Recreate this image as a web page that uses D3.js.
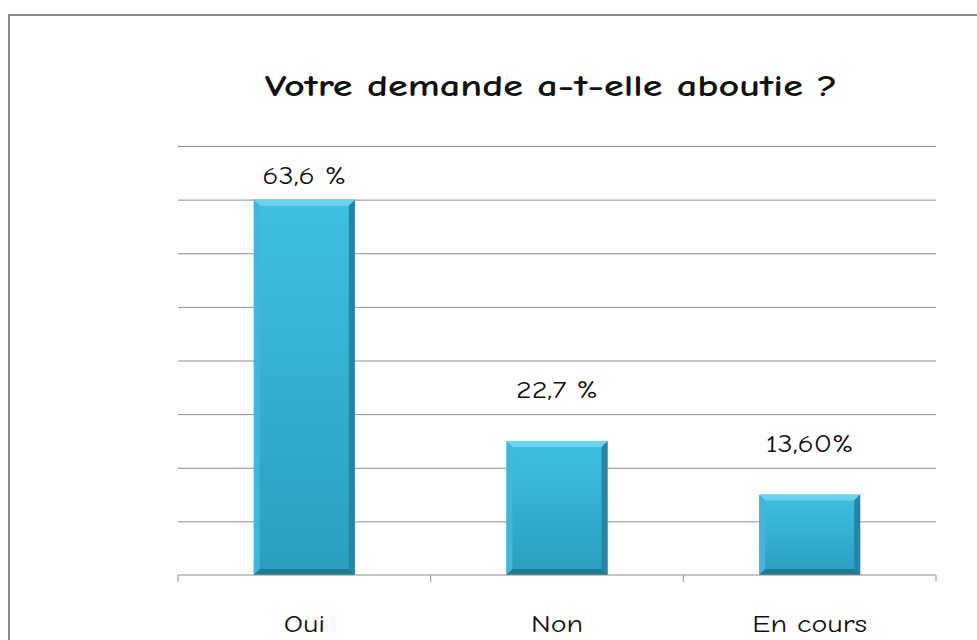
<!DOCTYPE html>
<html>
<head>
<meta charset="utf-8">
<script src="https://cdn.jsdelivr.net/npm/d3@7"></script>
<style>
  body { margin: 0; background: #fff; }
  text { font-family: "Comic Sans MS", "Comic Neue", "DejaVu Sans", sans-serif; fill: #111; }
</style>
</head>
<body>
<svg id="chart"></svg>
<script>
//DATA
const categories = ["Oui", "Non", "En cours"];
const counts = [14, 5, 3];            // 22 réponses
const valueLabels = ["63,6 %", "22,7 %", "13,60%"];
const yTicks = [0, 2, 4, 6, 8, 10, 12, 14, 16];
const title = "Votre demande a-t-elle aboutie ?";

//SET CONSTANTS
const W = 977, H = 640;
const margin = {top: 146, right: 41, bottom: 65, left: 178};
const width = W - margin.left - margin.right;
const height = H - margin.top - margin.bottom;
const stretch = 1.25;   // the original font is wider than the fallback

const chart = d3.select("#chart").attr("width", W).attr("height", H);

// frame (cut by the screenshot on the right and bottom)
chart.append("path")
  .attr("d", "M9," + H + "V15H" + W)
  .attr("fill", "none")
  .attr("stroke", "#8a8a8a")
  .attr("stroke-width", 2);

const g = chart.append("g").attr("transform", "translate(" + margin.left + "," + margin.top + ")");

const x = d3.scaleBand().domain(categories).range([0, width]).paddingInner(0.6).paddingOuter(0.3);
const xBound = d3.scaleBand().domain(categories).range([0, width]);
const y = d3.scaleLinear().domain([0, 16]).range([height, 0]);

//gridlines
g.append("g")
  .call(d3.axisLeft(y).tickValues(yTicks.slice(1)).tickSize(-width).tickFormat(""))
  .call(a => a.select(".domain").remove())
  .selectAll("line").attr("stroke", "#8c8c8c");

//gradients
const defs = chart.append("defs");
const grad = defs.append("linearGradient").attr("id", "face").attr("x1", 0).attr("y1", 0).attr("x2", 0).attr("y2", 1);
grad.append("stop").attr("offset", "0%").attr("stop-color", "#3ec0e3");
grad.append("stop").attr("offset", "100%").attr("stop-color", "#2a9ec0");

//bars
const bev = 6;
const bar = g.selectAll(".bar").data(categories).enter().append("g").attr("class", "bar");

bar.append("rect")
  .attr("x", d => x(d))
  .attr("y", (d, i) => y(counts[i]))
  .attr("width", x.bandwidth())
  .attr("height", (d, i) => height - y(counts[i]))
  .attr("fill", "url(#face)");

function bevel(pts) { return "M" + pts.map(p => p.join(",")).join("L") + "Z"; }

// top bevel
bar.append("path")
  .attr("fill", "#6fd5f2").attr("opacity", 0.9)
  .attr("d", (d, i) => {
    const x0 = x(d), x1 = x0 + x.bandwidth(), y0 = y(counts[i]);
    return bevel([[x0, y0], [x1, y0], [x1 - bev, y0 + bev], [x0 + bev, y0 + bev]]);
  });
// left bevel
bar.append("path")
  .attr("fill", "#43b5d8")
  .attr("d", (d, i) => {
    const x0 = x(d), y0 = y(counts[i]);
    return bevel([[x0, y0], [x0 + bev, y0 + bev], [x0 + bev, height - bev], [x0, height]]);
  });
// right bevel
bar.append("path")
  .attr("fill", "#2486a3")
  .attr("d", (d, i) => {
    const x1 = x(d) + x.bandwidth(), y0 = y(counts[i]);
    return bevel([[x1, y0], [x1, height], [x1 - bev, height - bev], [x1 - bev, y0 + bev]]);
  });
// bottom bevel
bar.append("path")
  .attr("fill", "#1f7a94")
  .attr("d", (d, i) => {
    const x0 = x(d), x1 = x0 + x.bandwidth();
    return bevel([[x0, height], [x0 + bev, height - bev], [x1 - bev, height - bev], [x1, height]]);
  });

//x axis with ticks at category boundaries
const axis = g.append("g").attr("transform", "translate(0," + height + ")");
axis.append("line").attr("x1", 0).attr("x2", width).attr("stroke", "#8c8c8c");
axis.selectAll(".tk").data(d3.range(categories.length + 1)).enter().append("line")
  .attr("x1", i => i * xBound.step()).attr("x2", i => i * xBound.step())
  .attr("y1", 0).attr("y2", 7)
  .attr("stroke", "#8c8c8c");

axis.selectAll(".cat").data(categories).enter().append("text")
  .attr("transform", d => "translate(" + (x(d) + x.bandwidth() / 2) + ",57) scale(" + stretch + ",1)")
  .attr("text-anchor", "middle")
  .style("font-size", "24px")
  .text(d => d);

//value labels sit just above the gridline at/over the bar top
bar.append("text")
  .attr("transform", (d, i) => "translate(" + (x(d) + x.bandwidth() / 2) + "," +
        (y(Math.ceil(counts[i] / 2) * 2) - 16) + ") scale(" + stretch + ",1)")
  .attr("text-anchor", "middle")
  .style("font-size", "24px")
  .text((d, i) => valueLabels[i]);

//title
chart.append("text")
  .attr("transform", "translate(551,96) scale(1.3,1)")
  .attr("text-anchor", "middle")
  .style("font-size", "31px")
  .style("font-weight", "bold")
  .text(title);
</script>
</body>
</html>
